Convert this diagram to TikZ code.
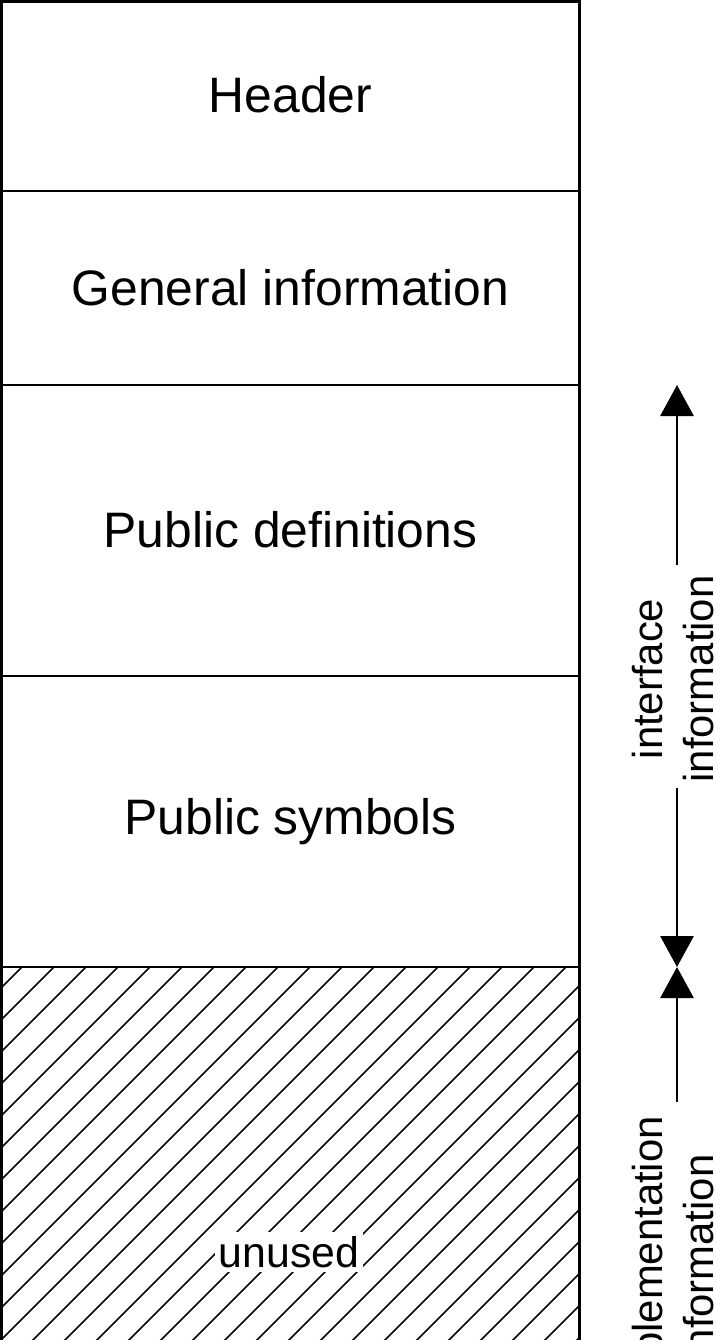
\documentclass[tikz,border=0pt]{standalone}
\usepackage{fontspec}
\setmainfont{Liberation Sans}
\usetikzlibrary{arrows.meta}
\begin{document}
\begin{tikzpicture}[x=1bp,y=-1bp,
  sect/.style={draw, line width=2.5bp, minimum width=578bp, anchor=north west,
    inner sep=0pt, outer sep=0pt, font=\fontsize{50}{58}\selectfont},
  side/.style={rotate=90, align=center, inner sep=0pt, font=\fontsize{42}{52}\selectfont},
  hatch/.style={line width=1.5bp},
  arr/.style={line width=2.8bp, -{Triangle[width=33bp,length=31bp]}}]
\useasboundingbox (0,0) rectangle (715,1340);
\clip (0,0) rectangle (715,1340);
\node[sect, minimum height=189.5bp] (hdr) at (1.5,1.5) {\raisebox{4bp}{Header}};
\node[sect, minimum height=194bp] (gen) at (hdr.south west) {General information};
\node[sect, minimum height=291bp] (pubdef) at (gen.south west) {\raisebox{2bp}{Public definitions}};
\node[sect, minimum height=291bp] (pubsym) at (pubdef.south west) {Public symbols};
\node[sect, minimum height=390bp] (unused) at (pubsym.south west) {};
\begin{scope}
  \clip (unused.north west) rectangle (unused.south east);
  \foreach \k in {-1,...,31} {
    \pgfmathsetmacro\cc{989+32*\k}
    \draw[hatch] (\cc-960,960) -- (\cc-1400,1400);
  }
\end{scope}
\draw[line width=2.5bp] (unused.south west) -- (unused.north west) -- (unused.north east) -- (unused.south east);
\node[fill=white, inner sep=4bp, font=\fontsize{43}{50}\selectfont] (unusedlbl) at (289,1252) {unused};
\coordinate (c1) at (677,565);
\draw[arr] (c1) -- (c1 |- pubdef.north);
\coordinate (c2) at (677,788);
\draw[arr] (c2) -- (c2 |- pubsym.south);
\coordinate (c3) at (677,1102);
\draw[arr] (c3) -- (c3 |- unused.north);
\node[side] (ifl) at (673,679) {interface\\information};
\node[side] (iml) at (673,1258) {implementation\\information};
\end{tikzpicture}
\end{document}
